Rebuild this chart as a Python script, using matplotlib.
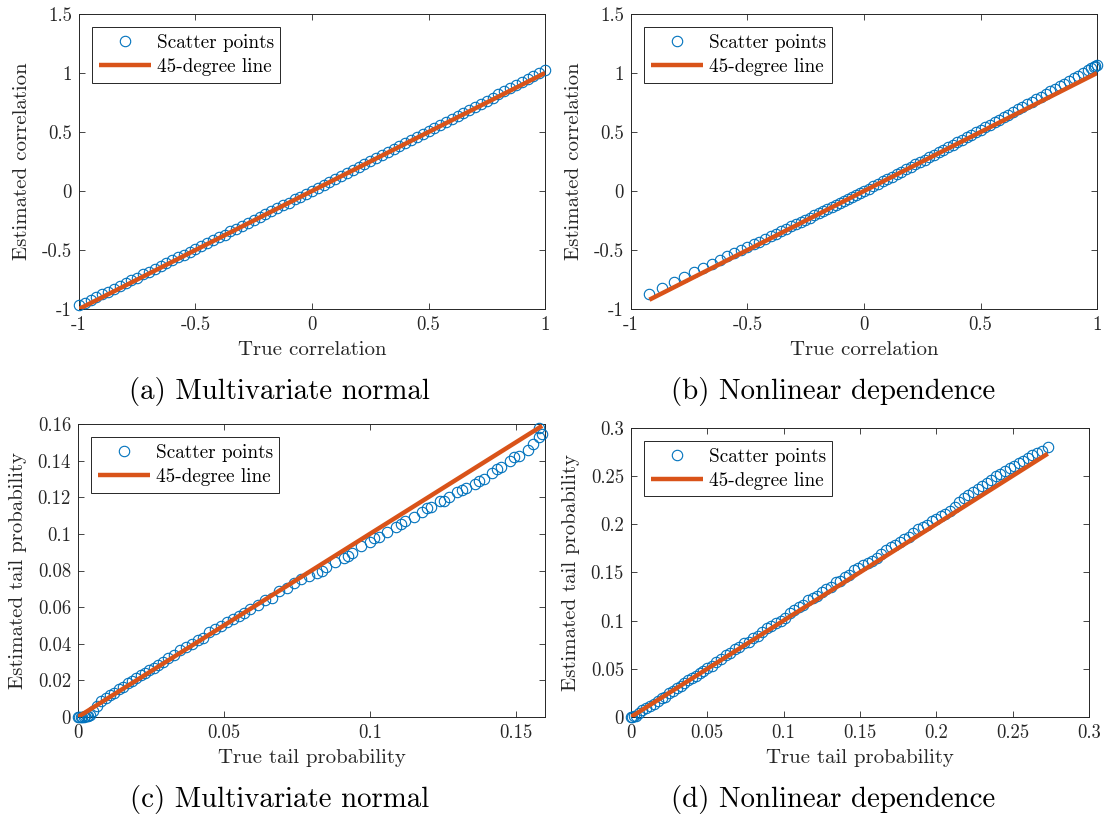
import matplotlib
matplotlib.use("Agg")
import matplotlib.pyplot as plt
from matplotlib.ticker import FormatStrFormatter

plt.rcParams["font.family"] = "cmr10"
plt.rcParams["axes.unicode_minus"] = False
plt.rcParams["mathtext.fontset"] = "cm"

# (a) multivariate normal, correlation
a_true = [-1.0, -0.975, -0.95, -0.925, -0.9, -0.875, -0.85, -0.825, -0.8, -0.775,
          -0.75, -0.725, -0.7, -0.675, -0.65, -0.625, -0.6, -0.575, -0.55, -0.525,
          -0.5, -0.475, -0.45, -0.425, -0.4, -0.375, -0.35, -0.325, -0.3, -0.275,
          -0.25, -0.225, -0.2, -0.175, -0.15, -0.125, -0.1, -0.075, -0.05, -0.025,
          0.0, 0.025, 0.05, 0.075, 0.1, 0.125, 0.15, 0.175, 0.2, 0.225,
          0.25, 0.275, 0.3, 0.325, 0.35, 0.375, 0.4, 0.425, 0.45, 0.475,
          0.5, 0.525, 0.55, 0.575, 0.6, 0.625, 0.65, 0.675, 0.7, 0.725,
          0.75, 0.775, 0.8, 0.825, 0.85, 0.875, 0.9, 0.925, 0.95, 0.975,
          1.0]
a_est = [-0.965, -0.945, -0.925, -0.900, -0.875, -0.852, -0.828, -0.803, -0.780, -0.757,
         -0.733, -0.706, -0.684, -0.660, -0.632, -0.610, -0.588, -0.562, -0.538, -0.515,
         -0.488, -0.466, -0.442, -0.418, -0.393, -0.370, -0.342, -0.322, -0.293, -0.270,
         -0.245, -0.220, -0.195, -0.172, -0.146, -0.120, -0.098, -0.071, -0.047, -0.022,
         0.002, 0.027, 0.054, 0.080, 0.103, 0.128, 0.155, 0.180, 0.205, 0.231,
         0.256, 0.282, 0.306, 0.332, 0.357, 0.383, 0.408, 0.433, 0.459, 0.485,
         0.510, 0.536, 0.561, 0.587, 0.612, 0.638, 0.664, 0.689, 0.715, 0.741,
         0.766, 0.792, 0.818, 0.844, 0.870, 0.896, 0.921, 0.948, 0.974, 1.000,
         1.028]

# (b) nonlinear dependence, correlation
b_true = [-0.921, -0.866, -0.817, -0.771, -0.730, -0.690, -0.652, -0.618, -0.586, -0.556,
          -0.527, -0.500, -0.474, -0.449, -0.425, -0.401, -0.378, -0.356, -0.334, -0.313,
          -0.292, -0.272, -0.252, -0.232, -0.213, -0.194, -0.175, -0.157, -0.139, -0.121,
          -0.103, -0.085, -0.068, -0.050, -0.033, -0.016, 0.0, 0.02, 0.04, 0.06,
          0.08, 0.1, 0.12, 0.14, 0.16, 0.18, 0.2, 0.22, 0.24, 0.26,
          0.28, 0.3, 0.32, 0.34, 0.36, 0.38, 0.4, 0.42, 0.44, 0.46,
          0.48, 0.5, 0.52, 0.54, 0.56, 0.58, 0.6, 0.62, 0.64, 0.66,
          0.68, 0.7, 0.72, 0.74, 0.76, 0.78, 0.8, 0.82, 0.84, 0.86,
          0.88, 0.9, 0.92, 0.94, 0.96, 0.975, 0.985, 0.993, 1.0]
b_est = [-0.873, -0.822, -0.774, -0.729, -0.689, -0.653, -0.619, -0.585, -0.554, -0.525,
         -0.497, -0.475, -0.450, -0.428, -0.405, -0.383, -0.361, -0.340, -0.320, -0.300,
         -0.281, -0.262, -0.243, -0.225, -0.206, -0.188, -0.170, -0.152, -0.135, -0.118,
         -0.100, -0.083, -0.066, -0.049, -0.032, -0.016, 0.001, 0.020, 0.041, 0.061,
         0.082, 0.102, 0.123, 0.143, 0.164, 0.184, 0.205, 0.226, 0.246, 0.267,
         0.288, 0.309, 0.330, 0.351, 0.372, 0.393, 0.414, 0.435, 0.456, 0.477,
         0.498, 0.519, 0.541, 0.562, 0.583, 0.605, 0.626, 0.648, 0.669, 0.691,
         0.712, 0.734, 0.756, 0.778, 0.800, 0.822, 0.844, 0.866, 0.888, 0.911,
         0.933, 0.956, 0.978, 1.001, 1.023, 1.040, 1.052, 1.062, 1.068]

# (c) multivariate normal, tail probability
c_true = [0.0, 0.0005, 0.001, 0.0015, 0.002, 0.0025, 0.003, 0.0035, 0.004, 0.005,
          0.0065, 0.008, 0.0095, 0.011, 0.0125, 0.014, 0.0155, 0.017, 0.0185, 0.02,
          0.0215, 0.023, 0.0245, 0.026, 0.0275, 0.029, 0.031, 0.033, 0.035, 0.037,
          0.039, 0.041, 0.043, 0.045, 0.047, 0.049, 0.051, 0.053, 0.055, 0.057,
          0.059, 0.0615, 0.064, 0.0665, 0.069, 0.0715, 0.074, 0.0765, 0.079, 0.082,
          0.085, 0.088, 0.091, 0.094, 0.097, 0.1, 0.103, 0.106, 0.109, 0.112,
          0.115, 0.118, 0.121, 0.124, 0.127, 0.13, 0.133, 0.136, 0.139, 0.142,
          0.145, 0.148, 0.151, 0.154, 0.156, 0.158, 0.159, 0.158,
          0.0835, 0.0925, 0.1015, 0.1105, 0.1195, 0.1255, 0.1315, 0.1375, 0.1435, 0.1495]
c_est = [0.0, 0.0, 0.0, 0.0, 0.0002, 0.0003, 0.0005, 0.0008, 0.001, 0.0035,
         0.0058, 0.0085, 0.0102, 0.0118, 0.0133, 0.0152, 0.0165, 0.0183, 0.0197, 0.0212,
         0.0228, 0.0240, 0.0256, 0.0268, 0.0285, 0.0298, 0.0322, 0.0340, 0.0365, 0.0384,
         0.0398, 0.0418, 0.0432, 0.0462, 0.0478, 0.0497, 0.0518, 0.0536, 0.0553, 0.0568,
         0.0590, 0.0613, 0.0638, 0.0652, 0.0688, 0.0706, 0.0731, 0.0752, 0.0770, 0.0789,
         0.0820, 0.0847, 0.0868, 0.0898, 0.0932, 0.0958, 0.0985, 0.1010, 0.1040, 0.1068,
         0.1092, 0.1120, 0.1148, 0.1180, 0.1203, 0.1228, 0.1248, 0.1275, 0.1300, 0.1335,
         0.1365, 0.1398, 0.1428, 0.1460, 0.1490, 0.1530, 0.1545, 0.1580,
         0.0800, 0.0880, 0.0975, 0.1052, 0.1140, 0.1182, 0.1240, 0.1290, 0.1352, 0.1420]

# (d) nonlinear dependence, tail probability
d_true = [0.0, 0.001, 0.002, 0.003, 0.005, 0.007, 0.01, 0.0125, 0.015, 0.0175,
          0.02, 0.0225, 0.025, 0.0275, 0.03, 0.0325, 0.035, 0.0375, 0.04, 0.0425,
          0.045, 0.0475, 0.05, 0.053, 0.056, 0.059, 0.062, 0.065, 0.068, 0.071,
          0.074, 0.077, 0.08, 0.083, 0.086, 0.089, 0.092, 0.095, 0.098, 0.101,
          0.104, 0.107, 0.11, 0.113, 0.116, 0.119, 0.122, 0.125, 0.128, 0.131,
          0.134, 0.137, 0.14, 0.143, 0.146, 0.149, 0.152, 0.155, 0.158, 0.161,
          0.164, 0.167, 0.17, 0.173, 0.176, 0.179, 0.182, 0.185, 0.188, 0.191,
          0.194, 0.197, 0.2, 0.203, 0.206, 0.209, 0.212, 0.215, 0.218, 0.221,
          0.224, 0.227, 0.23, 0.233, 0.236, 0.239, 0.242, 0.245, 0.248, 0.251,
          0.254, 0.257, 0.26, 0.263, 0.266, 0.269, 0.273]
d_est = [0.0, 0.0, 0.001, 0.0015, 0.004, 0.0075, 0.0095, 0.0112, 0.0138, 0.0168,
         0.0195, 0.0210, 0.0245, 0.0268, 0.0302, 0.0322, 0.0355, 0.0382, 0.0405, 0.0430,
         0.0452, 0.0478, 0.0505, 0.0528, 0.0575, 0.0605, 0.0640, 0.0668, 0.0702, 0.0728,
         0.0762, 0.0782, 0.0815, 0.0842, 0.0885, 0.0918, 0.0945, 0.0975, 0.0992, 0.1028,
         0.1075, 0.1105, 0.1142, 0.1158, 0.1212, 0.1235, 0.1255, 0.1298, 0.1325, 0.1348,
         0.1395, 0.1415, 0.1448, 0.1475, 0.1525, 0.1548, 0.1572, 0.1595, 0.1618, 0.1652,
         0.1688, 0.1735, 0.1762, 0.1785, 0.1812, 0.1842, 0.1868, 0.1908, 0.1948, 0.1965,
         0.1992, 0.2035, 0.2052, 0.2082, 0.2105, 0.2132, 0.2178, 0.2225, 0.2268, 0.2302,
         0.2328, 0.2362, 0.2398, 0.2425, 0.2462, 0.2495, 0.2515, 0.2548, 0.2585, 0.2605,
         0.2632, 0.2655, 0.2688, 0.2712, 0.2738, 0.2762, 0.2795]

# 45-degree line ends
a_line = [-1.0, 1.0]
b_line = [-0.921, 1.0]
c_line = [0.0, 0.159]
d_line = [0.0, 0.273]

corr_ticks = [-1, -0.5, 0, 0.5, 1]
corr_yticks = [-1, -0.5, 0, 0.5, 1, 1.5]
c_xticks = [0, 0.05, 0.1, 0.15]
c_yticks = [0, 0.02, 0.04, 0.06, 0.08, 0.1, 0.12, 0.14, 0.16]
d_ticks = [0, 0.05, 0.1, 0.15, 0.2, 0.25, 0.3]

captions = ["(a) Multivariate normal", "(b) Nonlinear dependence",
            "(c) Multivariate normal", "(d) Nonlinear dependence"]

blue = "#0072BD"
orange = "#D95319"
dark = "#262626"

fig = plt.figure(figsize=(11.06, 8.23), dpi=100)
axA = fig.add_axes([0.0714, 0.6245, 0.4214, 0.3585])
axB = fig.add_axes([0.5705, 0.6245, 0.4214, 0.3585])
axC = fig.add_axes([0.0705, 0.1288, 0.4223, 0.356])
axD = fig.add_axes([0.5705, 0.1288, 0.4141, 0.3516])


def draw(ax, xs, ys, line, xlim, ylim, xticks, yticks, xlabel, ylabel):
    ax.plot(xs, ys, "o", mfc="none", mec=blue, ms=7.5, mew=0.8,
            clip_on=False, zorder=3, label="Scatter points")
    ax.plot(line, line, "-", color=orange, lw=3.2, zorder=4,
            solid_capstyle="butt", label="45-degree line")
    ax.set_xlim(xlim)
    ax.set_ylim(ylim)
    ax.set_xticks(xticks)
    ax.set_yticks(yticks)
    ax.xaxis.set_major_formatter(FormatStrFormatter("%g"))
    ax.yaxis.set_major_formatter(FormatStrFormatter("%g"))
    ax.tick_params(direction="in", top=True, right=True, length=4, width=0.6,
                   colors=dark, labelsize=13.5, pad=5)
    for s in ax.spines.values():
        s.set_linewidth(0.7)
        s.set_color(dark)
    ax.set_xlabel(xlabel, fontsize=15, color=dark, labelpad=5)
    ax.set_ylabel(ylabel, fontsize=15, color=dark, labelpad=8)
    leg = ax.legend(loc="upper left", fontsize=13.8, handlelength=2.7,
                    fancybox=False, framealpha=1, edgecolor=dark,
                    borderpad=0.35, labelspacing=0.3, handletextpad=0.3,
                    borderaxespad=0.7)
    leg.get_frame().set_linewidth(0.7)


draw(axA, a_true, a_est, a_line, (-1, 1), (-1, 1.5), corr_ticks, corr_yticks,
     "True correlation", "Estimated correlation")
draw(axB, b_true, b_est, b_line, (-1, 1), (-1, 1.5), corr_ticks, corr_yticks,
     "True correlation", "Estimated correlation")
draw(axC, c_true, c_est, c_line, (0, 0.16), (0, 0.16), c_xticks, c_yticks,
     "True tail probability", "Estimated tail probability")
draw(axD, d_true, d_est, d_line, (0, 0.3), (0, 0.3), d_ticks, d_ticks,
     "True tail probability", "Estimated tail probability")

fig.text(0.253, 0.5237, captions[0], ha="center", va="center", fontsize=20.8)
fig.text(0.753, 0.5237, captions[1], ha="center", va="center", fontsize=20.8)
fig.text(0.253, 0.028, captions[2], ha="center", va="center", fontsize=20.8)
fig.text(0.753, 0.028, captions[3], ha="center", va="center", fontsize=20.8)

fig.savefig("out.png", dpi=100)
